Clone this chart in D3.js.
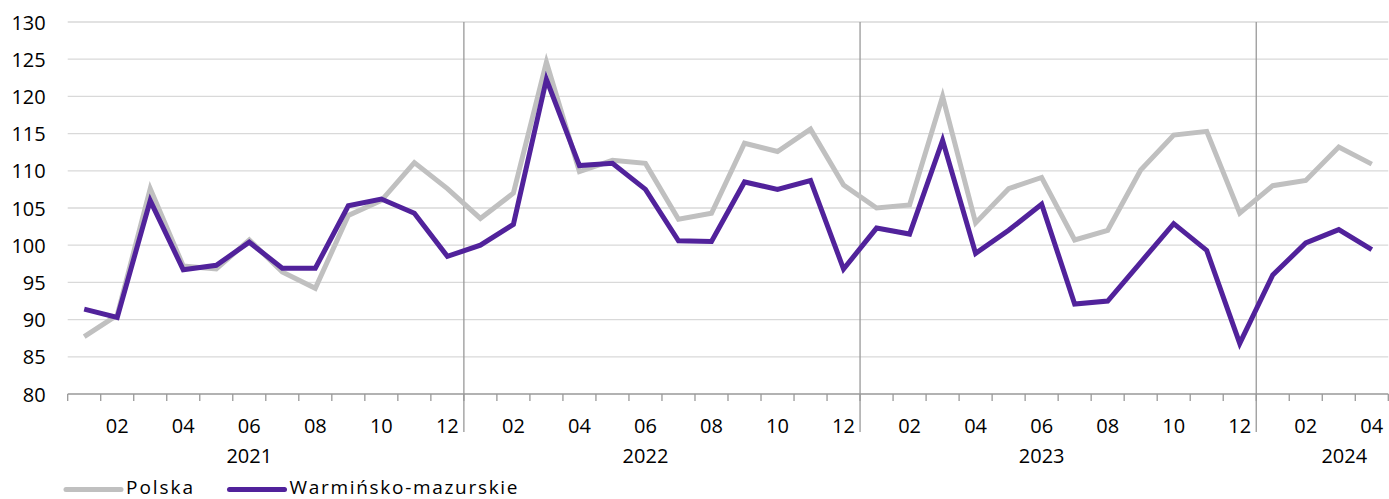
<!DOCTYPE html>
<html><head><meta charset="utf-8">
<script src="https://cdn.jsdelivr.net/npm/d3@7"></script>
<style>body{margin:0;background:#fff}svg{display:block;font-family:"Open Sans",sans-serif}</style>
</head><body><div id="chart"></div>
<script>
const years = ["2021","2022","2023","2024"];
const monthsPerYear = [12,12,12,4];
const monthLabels = ["01","02","03","04","05","06","07","08","09","10","11","12"];
const seriesNames = ["Polska","Warmińsko-mazurskie"];
const polska = [87.7,90.6,107.6,97.2,96.8,100.7,96.4,94.2,104.0,106.0,111.1,107.6,
  103.6,107.0,124.6,109.9,111.4,111.0,103.5,104.3,113.7,112.6,115.6,108.1,
  105.0,105.4,120.0,103.0,107.6,109.1,100.7,102.0,110.1,114.8,115.3,104.3,
  108.0,108.7,113.2,110.9];
const warminsko = [91.4,90.3,106.0,96.7,97.3,100.4,96.9,96.9,105.3,106.2,104.3,98.5,
  100.0,102.8,122.3,110.7,111.0,107.5,100.6,100.5,108.5,107.5,108.7,96.8,
  102.3,101.5,114.1,98.9,102.0,105.5,92.1,92.5,97.7,102.9,99.3,86.8,
  96.0,100.3,102.1,99.4];
const yTicks = [80,85,90,95,100,105,110,115,120,125,130];
const colors = ["#C0C0C0","#51229B"];

const W=1389,H=499;
const m={l:67.7,r:1388.3,t:22,b:394};
const svg=d3.select("#chart").append("svg").attr("width",W).attr("height",H);

const keys=[];
years.forEach((y,yi)=>{for(let k=0;k<monthsPerYear[yi];k++)keys.push(y+"-"+monthLabels[k]);});
const x=d3.scaleBand().domain(keys).range([m.l,m.r]).padding(0);
const y=d3.scaleLinear().domain([80,130]).range([m.b,m.t]);

// gridlines
svg.append("g").selectAll("line").data(yTicks.filter(t=>t>80)).join("line")
  .attr("x1",m.l).attr("x2",m.r).attr("y1",d=>y(d)).attr("y2",d=>y(d))
  .attr("stroke","#D9D9D9").attr("stroke-width",1.3);

// y axis labels
const yAxis=d3.axisLeft(y).tickValues(yTicks).tickSize(0).tickPadding(22);
const ya=svg.append("g").attr("transform",`translate(${m.l},0)`).call(yAxis);
ya.select(".domain").remove();
ya.selectAll("text").attr("font-size",20).attr("fill","#000").attr("font-family","Open Sans").attr("dy","0.35em");

// x axis with ticks at band boundaries
svg.append("line").attr("x1",m.l).attr("x2",m.r).attr("y1",m.b).attr("y2",m.b).attr("stroke","#999").attr("stroke-width",1.3);
svg.append("g").selectAll("line").data(keys.concat(["end"])).join("line")
  .attr("x1",(d,i)=>m.l+i*x.bandwidth()).attr("x2",(d,i)=>m.l+i*x.bandwidth())
  .attr("y1",m.b).attr("y2",m.b+7).attr("stroke","#999").attr("stroke-width",1.3);

// year separators
let cum=0; const sepIdx=[];
monthsPerYear.forEach((n,i)=>{cum+=n; if(i<monthsPerYear.length-1) sepIdx.push(cum);});
svg.append("g").selectAll("line").data(sepIdx).join("line")
  .attr("x1",d=>m.l+d*x.bandwidth()).attr("x2",d=>m.l+d*x.bandwidth())
  .attr("y1",m.t).attr("y2",432).attr("stroke","#999").attr("stroke-width",1.3);

// month labels (even months)
svg.append("g").selectAll("text").data(keys.filter(k=>(+k.slice(5))%2===0)).join("text")
  .attr("x",d=>x(d)+x.bandwidth()/2).attr("y",433).attr("text-anchor","middle")
  .attr("font-size",20).attr("fill","#000").text(d=>d.slice(5));

// year labels
const yearLabelKey=["2021-06","2022-06","2023-06",null];
svg.append("g").selectAll("text").data(years).join("text")
  .attr("x",(d,i)=>yearLabelKey[i]?x(yearLabelKey[i])+x.bandwidth()/2:(x("2024-03")+x("2024-04"))/2+x.bandwidth()/2-11)
  .attr("y",463).attr("text-anchor","middle").attr("font-size",20).attr("fill","#000").text(d=>d);

// lines
const line=d3.line().x((d,i)=>x(keys[i])+x.bandwidth()/2).y(d=>y(d));
[polska,warminsko].forEach((s,i)=>{
  svg.append("path").datum(s).attr("d",line).attr("fill","none")
    .attr("stroke",colors[i]).attr("stroke-width",5).attr("stroke-linejoin","miter").attr("stroke-linecap","butt");
});

// legend
const legX=[66,229.5];
const legTextLen=[67,228];
seriesNames.forEach((n,i)=>{
  svg.append("line").attr("x1",legX[i]).attr("x2",legX[i]+55).attr("y1",489.5).attr("y2",489.5)
    .attr("stroke",colors[i]).attr("stroke-width",5).attr("stroke-linecap","round");
  svg.append("text").attr("x",legX[i]+60).attr("y",494).attr("font-size",19).attr("fill","#000")
    .attr("textLength",legTextLen[i]).attr("lengthAdjust","spacing").text(n);
});
</script></body></html>
